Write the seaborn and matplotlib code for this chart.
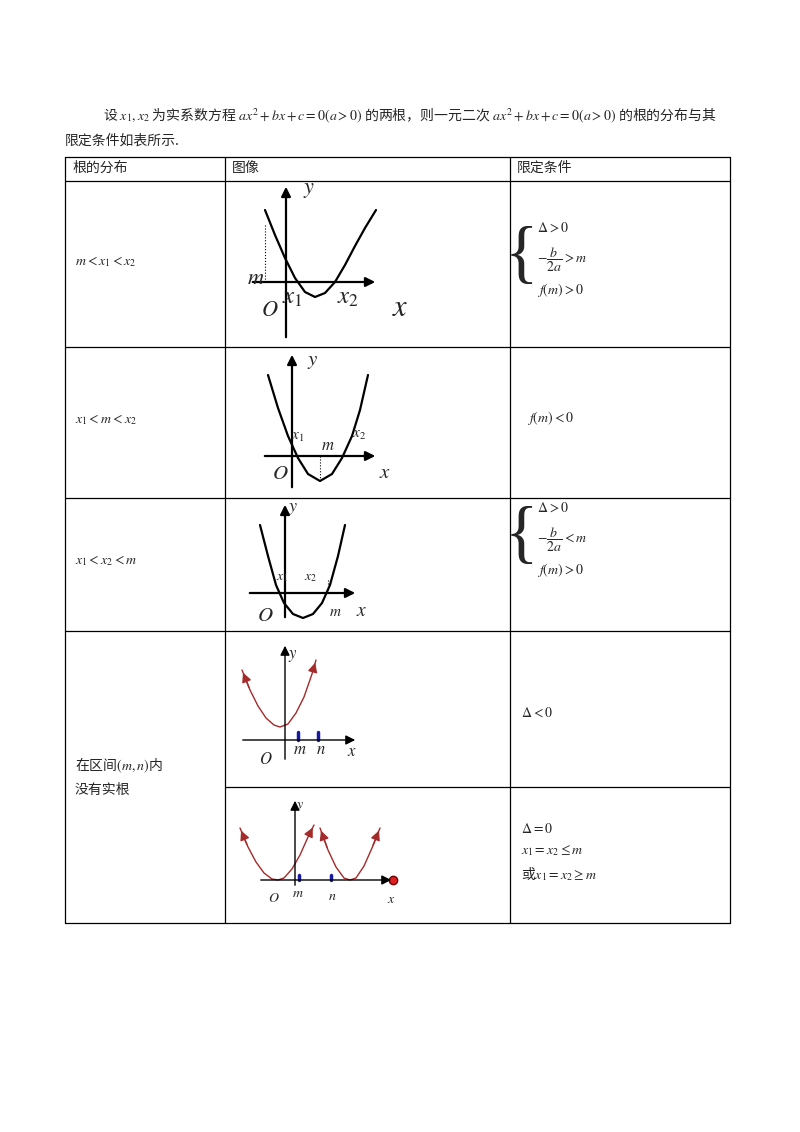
import matplotlib
matplotlib.use("Agg")
import matplotlib.pyplot as plt
import seaborn as sns

sns.set_theme(style="white")
plt.rcParams['font.family'] = ['Noto Sans CJK SC', 'DejaVu Sans']
plt.rcParams['mathtext.fontset'] = 'stix'

# table grid (page pixels)
COL_X = [65, 225, 510, 730]
ROW_Y = [157, 181, 347, 498, 631, 923]
SUB_ROW_Y = 787

HEADERS = ["根的分布", "图像", "限定条件"]
LEFT_LABELS = [r"$m<x_1<x_2$", r"$x_1<m<x_2$", r"$x_1<x_2<m$"]

# parabola sketches, points (page pixels)
curve1_x = [265, 275, 285, 295, 305, 315, 325, 335, 345, 355, 365, 376]
curve1_y = [210, 235, 258, 278, 292, 297, 293, 282, 265, 246, 228, 210]
curve2_x = [268, 278, 288, 298, 308, 320, 332, 342, 352, 360, 368]
curve2_y = [375, 408, 436, 458, 474, 481, 474, 458, 436, 410, 375]
curve3_x = [260, 268, 276, 284, 293, 303, 313, 322, 330, 338, 345]
curve3_y = [525, 556, 585, 603, 614, 618, 614, 603, 585, 556, 525]
curve4_x = [242, 250, 258, 266, 274, 280, 288, 296, 304, 312, 316]
curve4_y = [670, 690, 706, 718, 725, 727, 724, 713, 697, 674, 660]
curve5a_x = [240, 248, 256, 264, 272, 278, 284, 292, 300, 308, 314]
curve5a_y = [828, 847, 862, 873, 879, 880, 878, 869, 855, 837, 825]
curve5b_x = [320, 328, 336, 344, 350, 356, 364, 372, 380]
curve5b_y = [828, 850, 867, 878, 880, 878, 866, 848, 828]

fig = plt.figure(figsize=(8, 11.32), dpi=100)
ax = fig.add_axes([0, 0, 1, 1])
ax.set_xlim(0, 800)
ax.set_ylim(1132, 0)
ax.axis('off')

# intro text
ax.text(103, 115, r"设 $x_1,x_2$ 为实系数方程 $ax^2+bx+c=0(a>0)$ 的两根，则一元二次 $ax^2+bx+c=0(a>0)$ 的根的分布与其",
        fontsize=10, va='center')
ax.text(65, 141, "限定条件如表所示.", fontsize=10, va='center')

# table lines
for y in ROW_Y:
    ax.plot([COL_X[0], COL_X[-1]], [y, y], color='black', lw=0.9)
ax.plot([COL_X[1], COL_X[-1]], [SUB_ROW_Y, SUB_ROW_Y], color='black', lw=0.9)
for x in COL_X:
    ax.plot([x, x], [ROW_Y[0], ROW_Y[-1]], color='black', lw=0.9)
for x, h in zip(COL_X[:3], HEADERS):
    ax.text(x + 7, 168, h, fontsize=10, va='center')

for y, lab in zip([262, 420, 561], LEFT_LABELS):
    ax.text(75, y, lab, fontsize=10, va='center')
ax.text(75, 765, r"在区间$(m,n)$内", fontsize=10, va='center')
ax.text(75, 790, "没有实根", fontsize=10, va='center')


def arrow(x0, y0, x1, y1, color='black', lw=1.6):
    ax.annotate('', xy=(x1, y1), xytext=(x0, y0),
                arrowprops=dict(arrowstyle='-|>', color=color, lw=lw, mutation_scale=14))


def curve(xs, ys, color='black', lw=1.6):
    sns.lineplot(x=xs, y=ys, ax=ax, color=color, lw=lw, sort=False, estimator=None)


# sketch 1
arrow(286, 340, 286, 184)
arrow(250, 282, 378, 282)
curve(curve1_x, curve1_y)
ax.plot([265, 265], [225, 282], color='black', lw=0.8, ls=':')
for s, x, y, fs in [(r"$y$", 309, 188, 16), (r"$m$", 256, 277, 16), (r"$O$", 270, 310, 16),
                    (r"$x_1$", 292, 297, 18), (r"$x_2$", 348, 297, 18), (r"$x$", 400, 307, 22)]:
    ax.text(x, y, s, fontsize=fs, ha='center', va='center')

# sketch 2
arrow(292, 490, 292, 352)
arrow(262, 456, 378, 456)
curve(curve2_x, curve2_y)
ax.plot([320, 320], [456, 481], color='black', lw=0.8, ls=':')
for s, x, y, fs in [(r"$y$", 313, 360, 15), (r"$x_1$", 298, 435, 11), (r"$m$", 328, 445, 12),
                    (r"$x_2$", 359, 434, 11), (r"$O$", 280, 473, 15), (r"$x$", 385, 472, 15)]:
    ax.text(x, y, s, fontsize=fs, ha='center', va='center')

# sketch 3
arrow(285, 620, 285, 502)
arrow(247, 593, 358, 593)
curve(curve3_x, curve3_y)
ax.plot([328, 328], [580, 593], color='black', lw=0.8, ls=':')
for s, x, y, fs in [(r"$y$", 293, 508, 13), (r"$x_1$", 282, 577, 10), (r"$x_2$", 311, 577, 10),
                    (r"$m$", 335, 612, 11), (r"$O$", 265, 615, 15), (r"$x$", 362, 611, 14)]:
    ax.text(x, y, s, fontsize=fs, ha='center', va='center')

# sketch 4
dark_red = '#a52a2a'
arrow(285, 762, 285, 643, lw=1.0)
arrow(240, 740, 358, 740, lw=1.0)
curve(curve4_x, curve4_y, color=dark_red, lw=1.0)
arrow(curve4_x[1], curve4_y[1], curve4_x[0], curve4_y[0], color=dark_red, lw=1.0)
arrow(curve4_x[-2], curve4_y[-2], curve4_x[-1], curve4_y[-1], color=dark_red, lw=1.0)
for xm in [298, 318]:
    ax.plot([xm, xm], [732, 740], color='#1a1aa0', lw=2.5)
for s, x, y, fs in [(r"$y$", 293, 656, 12), (r"$m$", 300, 750, 12), (r"$n$", 321, 750, 12),
                    (r"$O$", 266, 760, 12), (r"$x$", 352, 752, 12)]:
    ax.text(x, y, s, fontsize=fs, ha='center', va='center')

# sketch 5
arrow(295, 888, 295, 798, lw=1.0)
arrow(258, 880, 394, 880, lw=1.0)
ax.plot([393], [880], 'o', color='#e02020', ms=6, mec='#700000')
curve(curve5a_x, curve5a_y, color=dark_red, lw=1.0)
curve(curve5b_x, curve5b_y, color=dark_red, lw=1.0)
for cx, cy in [(curve5a_x, curve5a_y), (curve5b_x, curve5b_y)]:
    arrow(cx[1], cy[1], cx[0], cy[0], color=dark_red, lw=1.0)
    arrow(cx[-2], cy[-2], cx[-1], cy[-1], color=dark_red, lw=1.0)
for xm in [299, 331]:
    ax.plot([xm, xm], [875, 880], color='#1a1aa0', lw=2.5)
for s, x, y, fs in [(r"$y$", 300, 806, 10), (r"$m$", 298, 893, 10), (r"$n$", 332, 896, 10),
                    (r"$O$", 274, 898, 10), (r"$x$", 391, 899, 10)]:
    ax.text(x, y, s, fontsize=fs, ha='center', va='center')

# conditions column
for ytop in [228, 508]:
    ax.text(521, ytop + 30, "{", fontsize=50, va='center', ha='center',
            family='Liberation Serif', fontweight='light')
for ytop, rel in [(228, '>'), (508, '<')]:
    ax.text(537, ytop, r"$\Delta>0$", fontsize=10, va='center')
    ax.text(537, ytop + 32, r"$-\dfrac{b}{2a}%sm$" % rel, fontsize=10, va='center')
    ax.text(537, ytop + 62, r"$f(m)>0$", fontsize=10, va='center')
ax.text(527, 418, r"$f(m)<0$", fontsize=10, va='center')
ax.text(521, 713, r"$\Delta<0$", fontsize=10, va='center')
ax.text(521, 829, r"$\Delta=0$", fontsize=10, va='center')
ax.text(521, 851, r"$x_1=x_2\leq m$", fontsize=10, va='center')
ax.text(521, 874, r"或$x_1=x_2\geq m$", fontsize=10, va='center')

fig.savefig("out.png", dpi=100)
